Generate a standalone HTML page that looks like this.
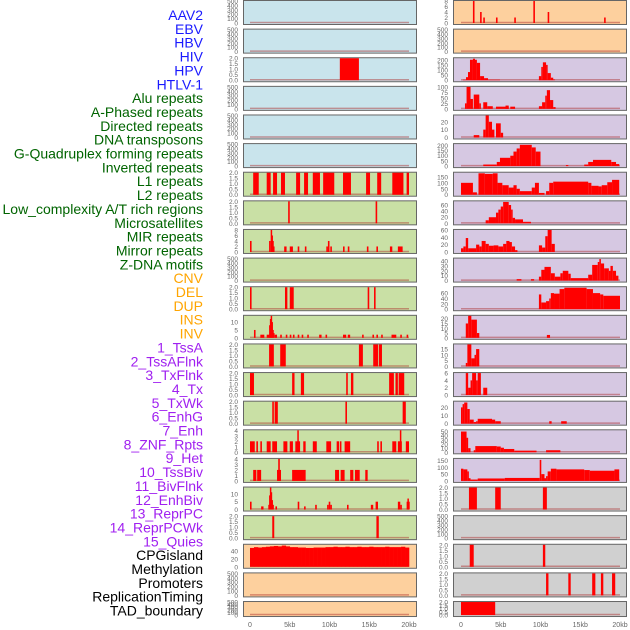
<!DOCTYPE html>
<html><head><meta charset="utf-8">
<style>
html,body{margin:0;padding:0;background:#fff;}
svg{display:block;font-family:"Liberation Sans",sans-serif;}
</style></head>
<body>
<svg id="chart" width="630" height="630" viewBox="0 0 630 630" xmlns="http://www.w3.org/2000/svg"></svg>
<script>
const trackNames = ["AAV2","EBV","HBV","HIV","HPV","HTLV-1","Alu repeats","A-Phased repeats","Directed repeats","DNA transposons","G-Quadruplex forming repeats","Inverted repeats","L1 repeats","L2 repeats","Low_complexity A/T rich regions","Microsatellites","MIR repeats","Mirror repeats","Z-DNA motifs","CNV","DEL","DUP","INS","INV","1_TssA","2_TssAFlnk","3_TxFlnk","4_Tx","5_TxWk","6_EnhG","7_Enh","8_ZNF_Rpts","9_Het","10_TssBiv","11_BivFlnk","12_EnhBiv","13_ReprPC","14_ReprPCWk","15_Quies","CPGisland","Methylation","Promoters","ReplicationTiming","TAD_boundary"];
const nameColors = ["#1a1aff","#1a1aff","#1a1aff","#1a1aff","#1a1aff","#1a1aff","#006400","#006400","#006400","#006400","#006400","#006400","#006400","#006400","#006400","#006400","#006400","#006400","#006400","#ffa500","#ffa500","#ffa500","#ffa500","#ffa500","#a020f0","#a020f0","#a020f0","#a020f0","#a020f0","#a020f0","#a020f0","#a020f0","#a020f0","#a020f0","#a020f0","#a020f0","#a020f0","#a020f0","#a020f0","#000","#000","#000","#000","#000"];
const xTickValues = [0,5,10,15,20];
const xTickLabels = ["0","5kb","10kb","15kb","20kb"];
const emptyTicks = [0,100,200,300,400,500];
const leftBg = ["b","b","b","b","b","b","g","g","g","g","g","g","g","g","g","g","g","g","g","o","o","o"];
const rightBg = ["o","o","p","p","p","p","p","p","p","p","p","p","p","p","p","p","p","y","y","y","y","y"];
const leftYMax = [500,500,2,500,500,500,2,2,8,500,2,14,2,2,2,4,4,14,2,56,500,500];
const rightYMax = [8,500,215,100,28,212,185,72,60,45,82,23,19,6,27,53,162,2,500,2,2,2];
const leftTicks = [emptyTicks,emptyTicks,[0,0.5,1,1.5,2],emptyTicks,emptyTicks,emptyTicks,[0,0.5,1,1.5,2],[0,0.5,1,1.5,2],[0,2,4,6,8],emptyTicks,[0,0.5,1,1.5,2],[0,5,10],[0,0.5,1,1.5,2],[0,0.5,1,1.5,2],[0,0.5,1,1.5,2],[0,1,2,3,4],[0,1,2,3,4],[0,5,10],[0,0.5,1,1.5,2],[0,20,40],emptyTicks,emptyTicks];
const rightTicks = [[0,2,4,6,8],emptyTicks,[0,50,100,150,200],[0,25,50,75,100],[0,10,20],[0,50,100,150,200],[0,50,100,150],[0,20,40,60],[0,20,40,60],[0,10,20,30,40],[0,20,40,60],[0,5,10,15,20],[0,5,10,15],[0,2,4,6],[0,10,20],[0,10,20,30,40,50],[0,50,100,150],[0,0.5,1,1.5,2],emptyTicks,[0,0.5,1,1.5,2],[0,0.5,1,1.5,2],[0,0.5,1,1.5,2]];
const cpgValues = [48,50,49,50,51,52,53,52,54,52,50,50,49,49,48,48,49,49,49,50,50,51,50,50,51,50,50,51,50,50,51,50,50,50,51,50,50,50,51,49];
const leftSegs = [
 [],[],[[11.3,13.7,2]],[],[],[],
 [[0.4,1.1,2],[2.1,2.6,2],[2.9,3.4,2],[3.9,4.4,2],[5.8,6.3,2],[6.8,7.3,2],[7.9,8.8,2],[9.2,10.6,2],[11.7,12.7,2],[14.6,15.1,2],[16.0,16.5,2],[17.9,19.3,2],[19.7,20.0,2]],
 [[4.8,5.0,2],[15.8,16.0,2]],
 [[0.0,0.2,4],[2.4,2.6,4],[2.6,2.7,8],[2.7,2.8,6],[2.8,2.9,4],[2.9,3.0,2],[4.3,4.6,2],[5.0,5.4,2],[6.0,6.2,2],[6.9,7.1,2],[9.6,9.8,2],[9.8,10.0,4],[10.1,10.3,2],[11.7,11.9,2],[12.3,12.5,2],[14.7,14.9,2],[15.9,16.1,2],[17.6,17.9,2],[18.6,19.2,2]],
 [],
 [[0.0,0.2,2],[4.4,4.7,2],[5.0,5.5,2],[14.8,15.0,2],[15.6,15.8,2]],
 [[0.5,0.7,5],[1.3,1.8,2],[2.1,2.5,2],[2.4,2.5,8],[2.5,2.6,12],[2.6,2.7,14],[2.7,2.8,10],[2.8,2.9,5],[2.9,3.0,3],[3.1,3.4,2],[3.8,4.0,2],[4.5,4.7,2],[5.0,5.2,2],[5.4,5.6,2],[6.0,6.2,2],[6.5,6.7,2],[7.2,7.4,2],[8.7,9.0,2],[9.5,9.7,2],[11.7,12.1,2],[12.3,12.6,2],[14.1,14.3,2],[15.4,15.6,2],[15.9,16.1,2],[16.5,16.7,2],[17.8,18.4,2],[18.9,19.1,2],[19.7,19.9,2]],
 [[2.4,3.0,2],[3.8,4.5,2],[13.7,14.2,2],[15.5,16.1,2],[16.2,16.6,2]],
 [[0.0,0.5,2],[5.3,5.6,2],[6.4,6.8,2],[12.1,12.3,2],[12.7,13.0,2],[17.5,18.1,2],[18.3,18.6,2],[18.7,19.4,2]],
 [[2.8,3.0,2],[3.1,3.5,2],[12.0,12.2,2],[19.2,19.6,2]],
 [[0.0,0.6,2],[0.8,1.0,2],[1.3,1.5,2],[2.1,2.6,2],[2.8,3.4,2],[4.2,4.7,2],[5.0,5.4,2],[5.7,6.3,2],[5.95,6.1,4],[6.7,7.0,2],[7.9,8.4,2],[9.6,10.2,2],[10.9,11.2,2],[11.3,11.5,2],[11.9,12.6,2],[16.0,16.2,2],[16.4,16.6,2],[17.9,18.4,2],[18.6,19.1,2],[18.85,19.0,4],[19.6,20.0,2]],
 [[0.4,0.8,2],[0.9,1.4,2],[3.4,3.9,2],[3.55,3.75,4],[5.3,7.0,2],[10.7,11.2,2],[11.4,11.9,2],[12.6,13.0,2],[13.2,13.8,2],[14.5,14.8,2]],
 [[0.0,0.2,5],[1.4,1.7,2],[2.3,2.5,3],[2.4,2.5,9],[2.5,2.6,14],[2.6,2.7,11],[2.7,2.8,6],[2.8,3.0,3],[3.2,3.4,2],[6.0,6.2,5],[6.8,7.0,2],[8.2,8.4,3],[9.7,9.9,3],[9.9,10.1,5],[10.1,10.3,3],[12.2,12.4,3],[15.2,15.5,3],[15.8,16.1,5],[18.6,18.9,5],[18.9,19.1,3],[19.7,19.8,5],[19.8,19.9,7],[19.9,20.0,5]],
 [[2.8,3.05,2],[15.9,16.2,2]],
 [],[],[]
];
const rightSegs = [
 [[1.5,1.7,8],[2.4,2.6,4],[2.8,3.0,2],[4.4,4.6,2],[6.7,6.9,2],[9.1,9.3,8],[10.9,11.1,4],[18.0,18.2,2]],
 [],
 [[0.25,0.63,5],[0.63,0.88,30],[0.88,1.13,80],[1.13,1.5,200],[1.5,1.76,210],[1.76,2.0,200],[2.0,2.4,170],[2.4,2.9,40],[2.9,3.4,20],[3.4,4.9,5],[9.8,10.1,40],[10.1,10.3,130],[10.3,10.7,175],[10.7,10.9,150],[10.9,11.3,70],[11.3,11.6,25],[11.6,11.8,8]],
 [[0.5,0.7,25],[0.7,1.2,100],[1.2,1.5,45],[1.6,2.3,65],[2.3,2.5,25],[2.8,3.3,30],[3.3,4.0,12],[4.4,6.0,10],[5.6,6.0,15],[6.2,6.8,10],[9.8,10.2,12],[10.2,10.6,30],[10.6,10.8,60],[10.8,11.2,85],[11.2,11.6,40],[11.6,11.9,8]],
 [[1.6,2.3,3],[2.8,3.1,10],[3.1,3.5,28],[3.5,3.9,20],[3.9,4.2,10],[4.4,5.0,18],[5.0,5.3,6]],
 [[2.8,4.5,15],[4.5,4.9,40],[4.9,6.2,80],[6.2,6.6,100],[6.6,7.0,140],[7.0,7.4,170],[7.4,8.9,205],[8.9,9.4,180],[9.4,10.0,140],[13.2,13.5,10],[15.5,16.0,15],[16.0,16.6,40],[16.6,18.9,60],[18.9,19.5,40],[19.5,19.9,20]],
 [[0.0,1.5,100],[1.5,2.0,20],[2.2,3.0,180],[3.0,4.0,175],[4.0,4.6,180],[4.6,5.2,100],[5.2,6.0,80],[6.0,6.6,60],[6.6,7.0,80],[7.0,7.4,50],[7.4,8.9,30],[8.9,9.3,60],[9.3,9.8,100],[9.8,10.5,15],[10.7,11.1,30],[11.1,11.6,100],[11.6,16.0,110],[16.0,16.4,100],[16.4,17.3,75],[17.3,17.7,70],[17.7,18.4,80],[18.4,19.0,105],[19.0,19.9,125]],
 [[3.1,3.5,10],[3.5,4.4,20],[4.4,4.7,35],[4.7,5.0,45],[5.0,5.3,55],[5.3,6.0,70],[6.0,6.3,60],[6.3,6.5,45],[6.5,6.8,18],[6.8,7.8,13],[7.8,8.8,5]],
 [[0.0,0.3,10],[0.3,0.6,15],[0.6,0.9,38],[0.9,1.9,10],[1.9,2.3,20],[2.3,2.6,15],[2.6,3.1,30],[3.1,3.5,22],[3.5,4.1,17],[4.1,4.7,18],[4.7,5.3,15],[5.3,5.7,22],[5.7,6.1,30],[6.1,6.4,27],[6.4,6.8,15],[6.8,7.1,5],[9.8,10.2,18],[10.2,10.6,12],[10.6,10.9,43],[10.9,11.4,60],[11.4,11.8,22]],
 [[7.0,7.6,3],[8.8,9.2,3],[9.8,10.1,8],[10.1,10.5,22],[10.5,11.3,28],[11.3,11.8,15],[11.8,12.5,8],[12.5,12.8,15],[12.8,13.5,20],[13.5,13.8,14],[13.8,16.0,5],[16.0,16.5,12],[16.5,17.2,32],[17.2,17.4,38],[17.4,17.6,44],[17.6,18.0,35],[18.0,18.6,25],[18.6,18.8,20],[18.8,19.1,30],[19.1,19.5,20],[19.5,19.8,10]],
 [[9.8,10.1,55],[10.1,10.7,25],[10.7,11.1,30],[11.1,11.3,40],[11.3,11.7,60],[11.7,12.4,58],[12.4,13.0,75],[13.0,15.8,80],[15.8,16.6,75],[16.6,17.5,60],[17.5,17.9,55],[17.9,20.0,50]],
 [[0.6,0.9,15],[0.9,1.3,23],[1.3,2.0,19],[2.0,2.3,5],[10.8,11.2,3]],
 [[0.6,0.8,3],[0.8,1.3,19],[1.3,1.7,7],[1.7,1.9,10],[1.9,2.3,15]],
 [[0.6,0.9,6],[0.9,1.2,2],[1.2,1.4,4],[1.4,1.9,6],[1.9,2.1,4],[2.1,2.5,6],[2.8,3.3,2]],
 [[0.0,0.2,20],[0.2,0.4,24],[0.4,0.8,26],[0.8,1.1,18],[1.1,1.6,5],[1.6,1.9,2],[1.9,2.1,3],[2.1,3.9,6],[3.9,4.3,5],[4.3,5.0,3],[11.1,11.4,3],[12.6,13.3,3]],
 [[0.0,0.7,50],[0.7,0.9,35],[0.9,1.2,10],[1.6,1.8,5],[1.8,4.5,15],[4.5,5.0,14],[5.0,5.4,11],[5.4,6.7,8],[6.7,9.5,4],[10.7,12.5,5]],
 [[0.0,0.3,90],[0.3,0.8,85],[0.8,0.9,70],[0.9,1.2,20],[1.2,2.1,10],[2.1,5.5,18],[5.5,9.9,22],[9.9,10.1,155],[10.1,10.5,50],[10.5,10.7,20],[10.7,10.9,35],[10.9,11.3,70],[11.3,12.0,90],[12.0,15.5,85],[15.5,16.2,80],[16.2,19.3,75],[19.3,19.9,85]],
 [[1.0,2.0,2],[4.3,5.0,2],[10.3,10.8,2]],
 [],
 [[1.1,1.6,2],[10.3,10.6,2]],
 [[10.7,11.0,2],[13.5,13.8,2],[16.5,16.9,2],[17.6,17.9,2],[19.0,19.4,2]],
 [[0.0,4.3,2]]
];
const bgColors = {b:"#c9e4ec",g:"#c9e0a5",o:"#fdd09e",p:"#d6c8e2",y:"#d0d0d0"};
const NS = "http://www.w3.org/2000/svg";
const svg = document.getElementById("chart");
function mk(tag, attrs, parent){const e=document.createElementNS(NS,tag);for(const k in attrs)e.setAttribute(k,attrs[k]);(parent||svg).appendChild(e);return e;}
function rowTop(i){return i*28.62;}
function rowH(i){return i===21?15:24;}
const PPK = 7.95;

trackNames.forEach((n,i)=>{
  const t = mk("text",{x:203,y:15+i*13.85+5,"text-anchor":"end","font-size":"14",fill:nameColors[i]});
  
  
  t.textContent = n;
});

function drawPanel(col, i, bg, ymax, ticks, segs, values){
  const px = col===0?243:453, pw = 173;
  const x0 = col===0?250:461;
  const top = rowTop(i), h = rowH(i);
  const g = mk("g",{});
  
  
  const r = mk("rect",{x:px+0.5,y:top+0.5,width:pw,height:h,fill:bgColors[bg],stroke:"#666","stroke-width":1},g);
  
  
  const yb = top+h-1, yt = top+1;
  const ys = v => yb - (Math.min(v,ymax)/ymax)*(yb-yt);
  const dec = ticks.some(t=>t%1!==0);
  ticks.forEach(t=>{
    const tl = mk("text",{x:px-5,y:ys(t)+2.5,"text-anchor":"end","font-size":"6.5",fill:"#666"},g);
    
    
    tl.textContent = dec? t.toFixed(1) : String(t);
  });
  const base = mk("line",{x1:x0,x2:x0+20*PPK,y1:yb-0.5,y2:yb-0.5,stroke:"rgba(170,40,40,0.45)","stroke-width":1.5},g);
  
  
  segs.forEach(s=>{
    const x = x0 + s[0]*PPK, w = Math.max((s[1]-s[0])*PPK, 1.5);
    const y = ys(s[2]);
    const b = mk("rect",{x:x,y:y,width:w,height:yb-y,fill:"#ff0000"},g);
    
    
  });
  if(values){
    values.forEach((v,k)=>{
      const x = x0 + k*0.5*PPK, y = ys(v);
      const b = mk("rect",{x:x,y:y,width:0.5*PPK+0.3,height:yb-y,fill:"#ff0000"},g);
      
      
    });
  }
}
for(let i=0;i<22;i++){
  drawPanel(0,i,leftBg[i],leftYMax[i],leftTicks[i],leftSegs[i], i===19?cpgValues:null);
  drawPanel(1,i,rightBg[i],rightYMax[i],rightTicks[i],rightSegs[i], null);
}
[0,1].forEach(col=>{
  const x0 = col===0?250:461;
  xTickValues.forEach((v,k)=>{
    const t = mk("text",{x:x0+v*PPK,y:627,"text-anchor":"middle","font-size":"7",fill:"#666"});
    
    
    t.textContent = xTickLabels[k];
  });
});
</script>
</body></html>
